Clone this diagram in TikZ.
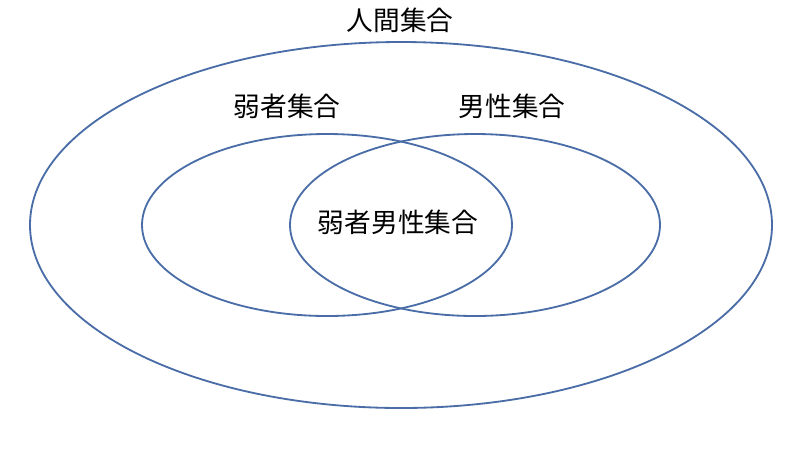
\documentclass[tikz,border=0pt]{standalone}
\usepackage{fontspec}
\newfontfamily\cjk{Noto Sans CJK JP}
\definecolor{setblue}{HTML}{4A6DA7}
\tikzset{
  setline/.style={draw=setblue, line width=1.3pt},
  setlabel/.style={font=\cjk\fontsize{19}{21}\selectfont, inner sep=0pt}
}
\begin{document}
\begin{tikzpicture}[x=0.025cm, y=-0.025cm]
  \useasboundingbox (0,0) rectangle (800,450);
  % sets
  \draw[setline] (401,225) ellipse [x radius=371, y radius=183];
  \draw[setline] (327,225) ellipse [x radius=185, y radius=91];
  \draw[setline] (475,225) ellipse [x radius=185, y radius=91];
  % labels
  \node[setlabel] (human) at (400,20) {人間集合};
  \node[setlabel] (weak) at (287,106) {弱者集合};
  \node[setlabel] (male) at (512,106) {男性集合};
  \node[setlabel] (weakmale) at (398,222) {弱者男性集合};
\end{tikzpicture}
\end{document}
